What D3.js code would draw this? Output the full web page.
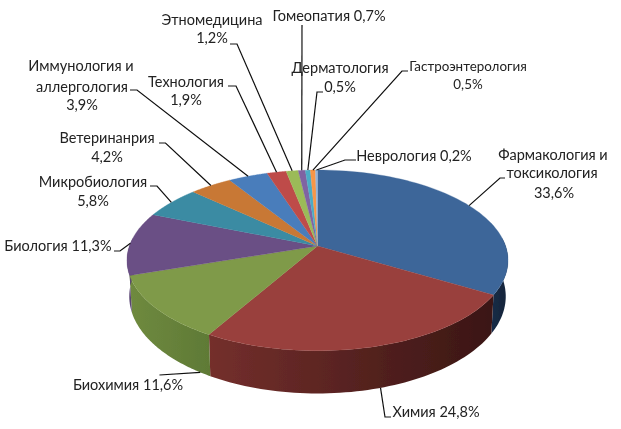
<!DOCTYPE html>
<html><head><meta charset="utf-8">
<script src="https://cdnjs.cloudflare.com/ajax/libs/d3/7.8.5/d3.min.js"></script>
<style>html,body{margin:0;padding:0;background:#fff}svg{display:block}text{font-family:Lato,"Open Sans","Noto Sans",sans-serif;font-size:14.5px;fill:#222}</style>
</head><body><svg id="c" width="621" height="429"></svg>
<script>
const categories=["Фармакология и токсикология","Химия","Биохимия","Биология","Микробиология","Ветеринанрия","Иммунология и аллергология","Технология","Этномедицина","Гомеопатия","Дерматология","Гастроэнтерология","Неврология"];
const values=[33.6,24.8,11.6,11.3,5.8,4.2,3.9,1.9,1.2,0.7,0.5,0.5,0.2];
const valueLabels=["33,6%","24,8%","11,6%","11,3%","5,8%","4,2%","3,9%","1,9%","1,2%","0,7%","0,5%","0,5%","0,2%"];
const topColors=["#3d6699","#99403d","#7f9a48","#6a4f85","#3a8ba3","#c87834","#4a7dbb","#be4b48","#9bbb59","#8064a2","#4bacc6","#f79646","#95b3d7"];
const wallLeft=["#182c46","#742f2c","#6f8a3f","#5a4573","#276071","#8a5223","#335680","#823331","#6b823c","#584570","#337788","#ab672f","#6a809c"];
const wallRight=["#14263d","#3a1614","#5f7a36","#5a4573","#276071","#8a5223","#335680","#823331","#6b823c","#584570","#337788","#ab672f","#6a809c"];
/* label layout: text lines [text,x,baseline] and leader elbow points */
const labelLines=[
 [["Фармакология и",553,160],["токсикология",552,178],["33,6%",554,198]],
 [["Химия 24,8%",436,417]],
 [["Биохимия 11,6%",128,390]],
 [["Биология 11,3%",58,251]],
 [["Микробиология",93,187],["5,8%",93,206]],
 [["Ветеринанрия",107,143],["4,2%",107,162]],
 [["Иммунология и",81,71],["аллергология",82,92],["3,9%",82,110]],
 [["Технология",186,87],["1,9%",186,105]],
 [["Этномедицина",212,25],["1,2%",212,43]],
 [["Гомеопатия 0,7%",329,21]],
 [["Дерматология",340,73],["0,5%",340,92]],
 [["Гастроэнтерология",468,70.5,13.4],["0,5%",468,89,13.4]],
 [["Неврология 0,2%",414,161]]];
const leaderElbows=[
 [[505,178],[500,178]],
 [[391,417],[385,417]],
 [[159.5,375]],
 [[114,251],[120,251]],
 [[150,186],[157,186]],
 [[159,143],[165.5,143]],
 [[130,90],[137,90]],
 [[228,86],[236,86]],
 [[230,44],[237,44]],
 [[302,25]],
 [[323,92],[317,92]],
 [[408,71],[402,71]],
 [[356,160],[345,160]]];
const cx=317.5,cy=246,A=188.1,B=88.05,p=0.159;
const bottomScale=0.988,bottomY=1.074,bottomShift=35;
const svg=d3.select("#c");
const arcs=d3.pie().sort(null).value(d=>d)(values);
function topPt(a){const u=Math.sin(a),v=-Math.cos(a),w=1-p*v;return [cx+A*u/w,cy+B*v/w];}
function botPt(a){const u=Math.sin(a),v=-Math.cos(a),w=1-p*v;return [cx+bottomScale*A*u/w,cy+bottomShift+bottomY*B*v/w];}
function range(a0,a1){return d3.range(0,61).map(i=>a0+(a1-a0)*i/60);}
const line=d3.line();
const defs=svg.append("defs");
defs.append("filter").attr("id","soft").attr("x","-5%").attr("y","-5%").attr("width","110%").attr("height","110%")
  .append("feGaussianBlur").attr("stdDeviation",0.35);
const wallA0=Math.PI/2-0.09,wallA1=3*Math.PI/2+0.09;
const walls=arcs.map((d,i)=>({i,a0:Math.max(d.startAngle,wallA0),a1:Math.min(d.endAngle,wallA1)})).filter(d=>d.a1>d.a0);
walls.forEach(d=>{
  const x0=topPt(d.a0)[0],x1=topPt(d.a1)[0];
  const g=defs.append("linearGradient").attr("id","w"+d.i).attr("gradientUnits","userSpaceOnUse")
    .attr("x1",x1).attr("x2",x0).attr("y1",0).attr("y2",0);
  g.append("stop").attr("offset",0).attr("stop-color",wallLeft[d.i]);
  g.append("stop").attr("offset",1).attr("stop-color",wallRight[d.i]);
});
const root=svg.append("g").attr("filter","url(#soft)");
root.append("g").selectAll("path").data(walls).join("path")
  .attr("d",d=>{const r=range(d.a0,d.a1);return line(r.map(topPt).concat(r.slice().reverse().map(botPt)))+"Z";})
  .attr("fill",d=>`url(#w${d.i})`);
root.append("g").selectAll("path").data(arcs).join("path")
  .attr("d",d=>line([[cx,cy]].concat(range(d.startAngle,d.endAngle).map(topPt)))+"Z")
  .attr("fill",(d,i)=>topColors[i]).attr("stroke",(d,i)=>topColors[i]).attr("stroke-width",.3);
const leaderAngleOnWall={1:2.85,2:3.72};
root.append("g").selectAll("path").data(arcs).join("path")
  .attr("d",(d,i)=>{
     const a=(d.startAngle+d.endAngle)/2;
     const s=leaderAngleOnWall[i]!==undefined?botPt(leaderAngleOnWall[i]):topPt(a);
     return line(leaderElbows[i].concat([s]));})
  .attr("fill","none").attr("stroke","#111").attr("stroke-width",1.2);
const labels=root.append("g");
labelLines.forEach(ls=>ls.forEach(l=>{
  const t=labels.append("text").attr("x",l[1]).attr("y",l[2]).attr("text-anchor","middle").text(l[0]);
  if(l[3]) t.style("font-size",l[3]+"px");
}));
</script></body></html>
